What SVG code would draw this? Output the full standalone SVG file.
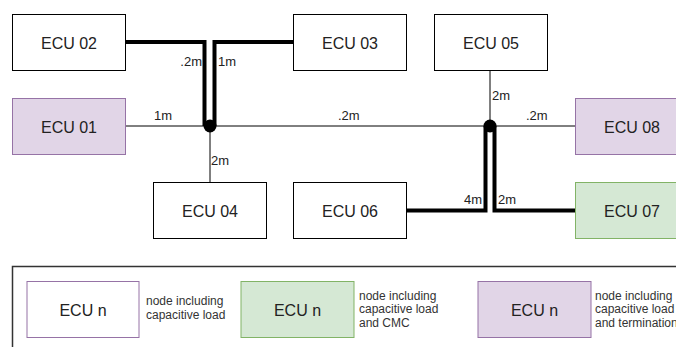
<svg xmlns="http://www.w3.org/2000/svg" width="676" height="347" viewBox="0 0 676 347">
<style>
.box{fill:#fff;stroke:#000;stroke-width:1}
.pur{fill:#e1d5e7;stroke:#9673a6;stroke-width:1}
.grn{fill:#d5e8d4;stroke:#82b366;stroke-width:1}
.wp{fill:#fff;stroke:#9673a6;stroke-width:1}
.lbl{font-family:"Liberation Sans",Arial,sans-serif;font-size:16px;fill:#222;text-anchor:middle}
.len{font-family:"Liberation Sans",Arial,sans-serif;font-size:13px;fill:#222}
.leg{font-family:"Liberation Sans",Arial,sans-serif;font-size:12px;fill:#333}
.thin{fill:none;stroke:#000;stroke-width:1}
.thick{fill:none;stroke:#000;stroke-width:4}
</style>
<rect width="676" height="347" fill="#fff"/>
<g id="connectors">
<path class="thin" d="M125.5 126H575.5"/>
<path class="thin" d="M490 70.5V126"/>
<path class="thin" d="M210 126V182.5"/>
<path class="thick" d="M125.5 42H204.5V126"/>
<path class="thick" d="M293.5 42H214.5V126"/>
<path class="thick" d="M406.5 210.5H485.5V126"/>
<path class="thick" d="M575.5 210.5H494.5V126"/>
<circle cx="210" cy="126" r="6.5" fill="#000"/>
<circle cx="490" cy="126" r="6.5" fill="#000"/>
<text class="len" x="202" y="66" text-anchor="end">.2m</text>
<text class="len" x="218" y="66">1m</text>
<text class="len" x="154" y="120">1m</text>
<text class="len" x="338" y="120">.2m</text>
<text class="len" x="492" y="100">2m</text>
<text class="len" x="526" y="120">.2m</text>
<text class="len" x="211" y="165">2m</text>
<text class="len" x="482" y="204" text-anchor="end">4m</text>
<text class="len" x="498" y="204">2m</text>
</g>
<g id="ecu02"><rect class="box" x="12.5" y="14.5" width="113" height="56"/><text class="lbl" x="69" y="49">ECU 02</text></g>
<g id="ecu03"><rect class="box" x="293.5" y="14.5" width="113" height="56"/><text class="lbl" x="350" y="49">ECU 03</text></g>
<g id="ecu05"><rect class="box" x="434.5" y="14.5" width="113" height="56"/><text class="lbl" x="491" y="49">ECU 05</text></g>
<g id="ecu01"><rect class="pur" x="12.5" y="98.5" width="113" height="56"/><text class="lbl" x="69" y="133">ECU 01</text></g>
<g id="ecu08"><rect class="pur" x="575.5" y="98.5" width="113" height="56"/><text class="lbl" x="632" y="133">ECU 08</text></g>
<g id="ecu04"><rect class="box" x="153.5" y="182.5" width="113" height="56"/><text class="lbl" x="210" y="217">ECU 04</text></g>
<g id="ecu06"><rect class="box" x="293.5" y="182.5" width="113" height="56"/><text class="lbl" x="350" y="217">ECU 06</text></g>
<g id="ecu07"><rect class="grn" x="575.5" y="182.5" width="113" height="56"/><text class="lbl" x="632" y="217">ECU 07</text></g>
<g id="legend">
<rect x="12.5" y="266.5" width="700" height="100" fill="none" stroke="#333" stroke-width="1.5"/>
<rect class="wp" x="27" y="281.5" width="112" height="56"/>
<text class="lbl" x="83" y="316">ECU n</text>
<text class="leg" x="146"><tspan x="146" y="305">node including</tspan><tspan x="146" y="318.5">capacitive load</tspan></text>
<rect class="grn" x="241" y="281.5" width="113" height="56"/>
<text class="lbl" x="297.5" y="316">ECU n</text>
<text class="leg"><tspan x="359" y="300">node including</tspan><tspan x="359" y="313">capacitive load</tspan><tspan x="359" y="326.5">and CMC</tspan></text>
<rect class="pur" x="478" y="281.5" width="113" height="56"/>
<text class="lbl" x="534.5" y="316">ECU n</text>
<text class="leg"><tspan x="595" y="300">node including</tspan><tspan x="595" y="313">capacitive load</tspan><tspan x="595" y="326.5">and termination</tspan></text>
</g>
</svg>
